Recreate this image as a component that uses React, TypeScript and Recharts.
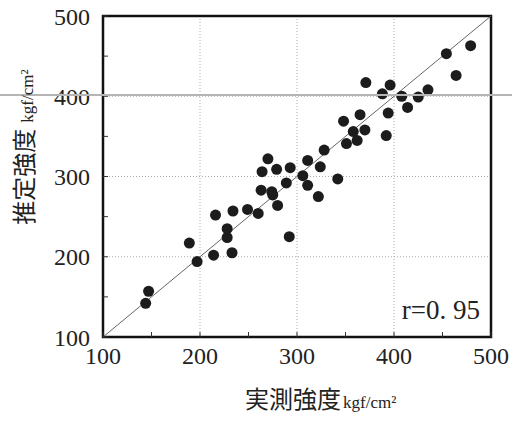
import { ScatterChart, Scatter, XAxis, YAxis, CartesianGrid, ReferenceLine, ReferenceArea } from 'recharts'

// 実測強度 (measured) and 推定強度 (estimated), kgf/cm²
const measured = [
  144, 147, 189, 197, 214, 216, 228, 228, 233, 234, 249, 260, 263, 264, 270, 274,
  275, 280, 279, 289, 293, 292, 306, 311, 311, 322, 324, 328, 342, 348, 351, 358,
  362, 365, 370, 371, 388, 392, 394, 396, 408, 414, 425, 435, 454, 464, 479,
]
const estimated = [
  142, 157, 217, 194, 202, 252, 235, 224, 205, 257, 259, 254, 283, 306, 322, 281,
  277, 264, 309, 292, 311, 225, 301, 320, 289, 275, 312, 333, 297, 369, 341, 356,
  345, 377, 358, 417, 403, 351, 379, 414, 400, 386, 399, 408, 453, 426, 463,
]
const axisTicks = [100, 150, 200, 250, 300, 350, 400, 450, 500]
const gridValues = [200, 300, 400]
const correlation = 'r=0. 95'

const points = measured.map((m, i) => ({ x: m, y: estimated[i] }))

const serif = '"Liberation Serif", "DejaVu Serif", serif'
const cjk = '"Noto Sans CJK JP", sans-serif'
const tickStyle = { fontSize: 24, fill: '#222', fontFamily: serif }
const fmt = (v: number) => (v % 100 === 0 ? String(v) : '')

export default function App() {
  return (
    <div style={{ position: 'absolute', left: 0, top: 0, width: 512, height: 421, background: '#fff' }}>
      <ScatterChart width={512} height={421} margin={{ top: 16, right: 21, bottom: 54, left: 43 }}>
        <CartesianGrid stroke="#aaa" strokeDasharray="1 2" horizontalValues={gridValues} verticalValues={gridValues} />
        <XAxis
          type="number"
          dataKey="x"
          domain={[100, 500]}
          ticks={axisTicks}
          tickFormatter={fmt}
          allowDataOverflow
          height={30}
          tickSize={-5}
          tickMargin={15}
          tick={tickStyle}
          axisLine={false}
          tickLine={{ stroke: '#333' }}
          interval={0}
        />
        <YAxis
          type="number"
          dataKey="y"
          domain={[100, 500]}
          ticks={axisTicks}
          tickFormatter={fmt}
          allowDataOverflow
          width={60}
          tickSize={-5}
          tickMargin={18}
          tick={tickStyle}
          axisLine={false}
          tickLine={{ stroke: '#333' }}
          interval={0}
        />
        <ReferenceLine segment={[{ x: 100, y: 100 }, { x: 500, y: 500 }]} stroke="#666" strokeWidth={1} />
        <Scatter
          data={points}
          isAnimationActive={false}
          shape={(p: any) => <circle cx={p.cx} cy={p.cy} r={5.5} fill="#1c1c1c" />}
        />
        <ReferenceArea x1={100} x2={500} y1={100} y2={500} fill="none" stroke="#111" strokeWidth={2.5} ifOverflow="visible" />
      </ScatterChart>
      {/* scan line across the page */}
      <div style={{ position: 'absolute', left: 0, top: 94, width: 512, height: 2, background: '#b5b5b5' }} />
      <div style={{ position: 'absolute', left: 300, top: 295, width: 180, textAlign: 'right', fontFamily: serif, fontSize: 27, color: '#222', lineHeight: '30px' }}>
        {correlation}
      </div>
      <div style={{ position: 'absolute', left: 200, top: 384, width: 270, fontFamily: cjk, color: '#222', whiteSpace: 'nowrap', lineHeight: '28px', paddingLeft: 45 }}>
        <span style={{ fontSize: 24 }}>実測強度</span>
        <span style={{ fontSize: 17, fontFamily: serif, marginLeft: 2 }}>kgf/cm²</span>
      </div>
      <div
        style={{
          position: 'absolute',
          left: 25,
          top: 147,
          transform: 'translate(-50%, -50%) rotate(-90deg)',
          fontFamily: cjk,
          color: '#222',
          whiteSpace: 'nowrap',
          lineHeight: '28px',
        }}
      >
        <span style={{ fontSize: 24 }}>推定強度</span>
        <span style={{ fontSize: 17, fontFamily: serif, marginLeft: 6 }}>kgf/cm²</span>
      </div>
    </div>
  )
}
